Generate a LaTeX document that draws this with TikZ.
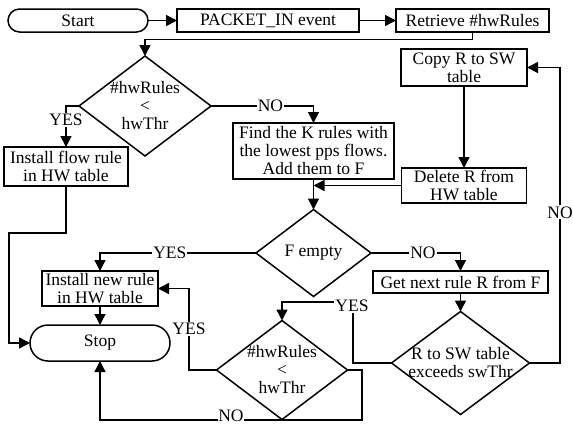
\documentclass[tikz,border=0pt]{standalone}
\usepackage{fontspec}
\setmainfont{Liberation Serif}
\usetikzlibrary{shapes.geometric,arrows.meta,calc}
\tikzset{
  every node/.style={font=\fontsize{17.5}{18}\selectfont, outer sep=0pt, inner sep=0pt},
  box/.style={draw, line width=1.5pt, rectangle, align=center},
  term/.style={box, rounded corners=#1},
  dia/.style={draw, line width=1.5pt, diamond},
  conn/.style={line width=1.5pt},
  arr/.style={conn, -{Triangle[length=11pt,width=11pt]}},
  lbl/.style={fill=white, inner sep=1pt},
}
\begin{document}
\begin{tikzpicture}[x=1pt,y=-1pt]
\useasboundingbox (0,0) rectangle (573,426);
% nodes
\node[term=11.5pt, minimum width=140pt, minimum height=23pt] (start) at (78,20.5) {Start};
\node[box, minimum width=182pt, minimum height=23pt] (pkt) at (268,20.5) {PACKET\_IN event};
\node[box, minimum width=153pt, minimum height=23pt] (ret) at (472.5,20.5) {Retrieve \#hwRules};
\node[dia, minimum width=132pt, minimum height=100pt] (d1) at (145,106) {};
\node[align=center] (d1t) at (d1.center) {\#hwRules\\<\\hwThr};
\node[box, minimum width=124pt, minimum height=39pt] (inst1) at (66,166.5) {Install flow rule\\in HW table};
\node[box, minimum width=161pt, minimum height=56pt] (find) at (313.5,151) {Find the K rules with\\the lowest pps flows.\\Add them to F};
\node[box, minimum width=126pt, minimum height=37pt] (copy) at (464,67.5) {Copy R to SW\\table};
\node[box, minimum width=125pt, minimum height=35pt] (del) at (464,185.5) {Delete R from\\HW table};
\node[dia, minimum width=115pt, minimum height=87pt] (fe) at (313.5,253) {};
\node (fet) at (fe.center) {F empty};
\node[box, minimum width=116pt, minimum height=35pt] (instnew) at (100,288.5) {Install new rule\\in HW table};
\node[term=18pt, minimum width=140pt, minimum height=36pt] (stop) at (100,343) {Stop};
\node[box, minimum width=175pt, minimum height=22pt] (getnext) at (460.5,282) {Get next rule R from F};
\node[dia, minimum width=131pt, minimum height=99pt] (d3) at (282,370) {};
\node[align=center] (d3t) at (d3.center) {\#hwRules\\<\\hwThr};
\node[dia, minimum width=138pt, minimum height=103pt] (d4) at (460.5,363) {};
\node[align=center] (d4t) at (d4.center) {R to SW table\\exceeds swThr};
% helper coordinates
\coordinate (k1) at (9,233);
\coordinate (k2) at (560,67.5);
\coordinate (k3) at (353,302);
\coordinate (k4) at (189,288.5);
\coordinate (k5) at (362,420);
% connectors
\draw[arr] (start.east) -- (pkt.west);
\draw[arr] (pkt.east) -- (ret.west);
\draw[arr] (ret.south) -- ++(0,7.5) -| (d1.north);
\draw[arr] (d1.west) -| node[lbl, pos=0.67] {YES} (inst1.north);
\draw[arr] (d1.east) -| node[lbl, pos=0.29] {NO} (find.north);
\draw[arr] (find.south) -- (fe.north);
\draw[arr] (del.west) -- (find.south |- del.west);
\draw[arr] (copy.south) -- (del.north);
\draw[arr] (inst1.south) |- (k1) |- (stop.west);
\draw[arr] (fe.west) -| node[lbl, pos=0.276] {YES} (instnew.north);
\draw[arr] (instnew.south) -- (stop.north);
\draw[arr] (fe.east) -| node[lbl, pos=0.29] {NO} (getnext.north);
\draw[arr] (getnext.south) -- (d4.north);
\draw[arr] (d4.east) -| node[lbl, pos=0.755] {NO} (k2) -- (copy.east);
\draw[arr] (d4.west) -| (k3) -| (d3.north);
\node[lbl] (yes3) at (352,306) {YES};
\draw[arr] (d3.west) -| node[lbl, pos=0.75] {YES} (k4) -- (instnew.east);
\draw[arr] (d3.east) -| (k5) -| node[lbl, pos=0.25, inner sep=0.5pt, yshift=4pt] {NO} (stop.south);
\end{tikzpicture}
\end{document}
